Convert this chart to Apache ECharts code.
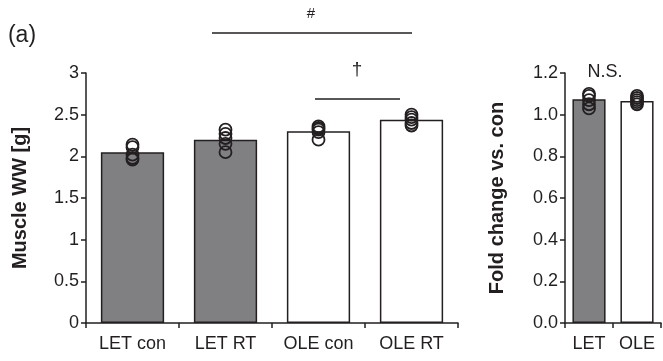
<!DOCTYPE html>
<html>
<head>
<meta charset="utf-8">
<script src="https://cdn.jsdelivr.net/npm/echarts@6/dist/echarts.min.js"></script>
<style>
html,body{margin:0;padding:0;background:#fff;}
#chart{width:663px;height:361px;}
</style>
</head>
<body>
<div id="chart"></div>
<script>
// Left panel: muscle wet weight
var groupsLeft = ['LET con', 'LET RT', 'OLE con', 'OLE RT'];
var meanLeft = [2.05, 2.20, 2.30, 2.44];
var dotsLetCon = [2.14, 2.11, 2.02, 1.98, 1.96];
var dotsLetRt = [2.32, 2.27, 2.22, 2.15, 2.05];
var dotsOleCon = [2.36, 2.34, 2.32, 2.29, 2.20];
var dotsOleRt = [2.50, 2.47, 2.44, 2.40, 2.37];
var leftTicks = ['0', '0.5', '1', '1.5', '2', '2.5', '3'];

// Right panel: fold change vs. con
var groupsRight = ['LET', 'OLE'];
var meanRight = [1.074, 1.066];
var dotsLet = [1.10, 1.09, 1.07, 1.05, 1.03];
var dotsOle = [1.09, 1.08, 1.07, 1.06, 1.05];

var INK = '#231f20';
var GRAY = '#808083';
var FONT = 'Liberation Sans, Arial, Helvetica, sans-serif';

function dotsData(cat, arr) {
  return arr.map(function (v) { return [cat, v]; });
}

var leftDots = [].concat(
  dotsData(groupsLeft[0], dotsLetCon),
  dotsData(groupsLeft[1], dotsLetRt),
  dotsData(groupsLeft[2], dotsOleCon),
  dotsData(groupsLeft[3], dotsOleRt)
);
var rightDots = [].concat(
  dotsData(groupsRight[0], dotsLet),
  dotsData(groupsRight[1], dotsOle)
);

var barColorsLeft = [GRAY, GRAY, '#ffffff', '#ffffff'];
var barColorsRight = [GRAY, '#ffffff'];

var axisLineStyle = { color: INK, width: 1.5 };

var chart = echarts.init(document.getElementById('chart'), null, { renderer: 'canvas' });

var option = {
  animation: false,
  backgroundColor: '#ffffff',
  textStyle: { fontFamily: FONT },
  grid: [
    { left: 86, width: 372, top: 73, bottom: 38 },
    { left: 565, width: 96, top: 73, bottom: 38 }
  ],
  xAxis: [
    {
      type: 'category', gridIndex: 0, data: groupsLeft,
      axisLine: { lineStyle: axisLineStyle },
      axisTick: { show: true, length: 5, inside: false, lineStyle: axisLineStyle },
      axisLabel: { color: INK, fontSize: 18, margin: 12, fontFamily: FONT }
    },
    {
      type: 'category', gridIndex: 1, data: groupsRight,
      axisLine: { lineStyle: axisLineStyle },
      axisTick: { show: true, length: 5, lineStyle: axisLineStyle },
      axisLabel: { color: INK, fontSize: 18, margin: 12, fontFamily: FONT }
    }
  ],
  yAxis: [
    {
      type: 'value', gridIndex: 0, min: 0, max: 3, interval: 0.5,
      name: 'Muscle WW [g]', nameLocation: 'middle', nameGap: 56,
      nameTextStyle: { color: INK, fontSize: 20, fontWeight: 'bold', fontFamily: FONT },
      axisLine: { show: true, lineStyle: axisLineStyle },
      axisTick: { show: true, length: 5, lineStyle: axisLineStyle },
      splitLine: { show: false },
      axisLabel: {
        color: INK, fontSize: 18, margin: 7, fontFamily: FONT,
        formatter: function (v) { return leftTicks[Math.round(v / 0.5)]; }
      }
    },
    {
      type: 'value', gridIndex: 1, min: 0, max: 1.2, interval: 0.2,
      name: 'Fold change vs. con', nameLocation: 'middle', nameGap: 58,
      nameTextStyle: { color: INK, fontSize: 20, fontWeight: 'bold', fontFamily: FONT },
      axisLine: { show: true, lineStyle: axisLineStyle },
      axisTick: { show: true, length: 5, lineStyle: axisLineStyle },
      splitLine: { show: false },
      axisLabel: {
        color: INK, fontSize: 18, margin: 7, fontFamily: FONT,
        formatter: function (v) { return v.toFixed(1); }
      }
    }
  ],
  series: [
    {
      type: 'bar', xAxisIndex: 0, yAxisIndex: 0, barWidth: '68%',
      data: meanLeft.map(function (v, i) {
        return { value: v, itemStyle: { color: barColorsLeft[i] } };
      }),
      itemStyle: { borderColor: INK, borderWidth: 1.5 },
      z: 2
    },
    {
      type: 'scatter', xAxisIndex: 0, yAxisIndex: 0, symbol: 'circle', symbolSize: 12,
      data: leftDots,
      itemStyle: { color: 'rgba(0,0,0,0)', borderColor: INK, borderWidth: 1.8, opacity: 1 },
      z: 3
    },
    {
      type: 'bar', xAxisIndex: 1, yAxisIndex: 1, barWidth: '69%',
      data: meanRight.map(function (v, i) {
        return { value: v, itemStyle: { color: barColorsRight[i] } };
      }),
      itemStyle: { borderColor: INK, borderWidth: 1.5 },
      z: 2
    },
    {
      type: 'scatter', xAxisIndex: 1, yAxisIndex: 1, symbol: 'circle', symbolSize: 12,
      data: rightDots,
      itemStyle: { color: 'rgba(0,0,0,0)', borderColor: INK, borderWidth: 1.8, opacity: 1 },
      z: 3
    }
  ],
  graphic: [
    { type: 'text', x: 22, y: 36, style: { text: '(a)', fontSize: 23, fill: INK, fontFamily: FONT, textAlign: 'center', textVerticalAlign: 'middle' } },
    { type: 'text', x: 311, y: 14, style: { text: '#', fontSize: 15, fill: INK, fontFamily: FONT, textAlign: 'center', textVerticalAlign: 'middle' } },
    { type: 'line', shape: { x1: 212, y1: 33, x2: 412, y2: 33 }, style: { stroke: INK, lineWidth: 1.5 } },
    { type: 'text', x: 357, y: 70, style: { text: '†', fontSize: 19, fill: INK, fontFamily: FONT, textAlign: 'center', textVerticalAlign: 'middle' } },
    { type: 'line', shape: { x1: 315, y1: 99, x2: 400, y2: 99 }, style: { stroke: INK, lineWidth: 1.5 } },
    { type: 'text', x: 605, y: 72, style: { text: 'N.S.', fontSize: 18, fill: INK, fontFamily: FONT, textAlign: 'center', textVerticalAlign: 'middle' } }
  ]
};

chart.setOption(option);
</script>
</body>
</html>
